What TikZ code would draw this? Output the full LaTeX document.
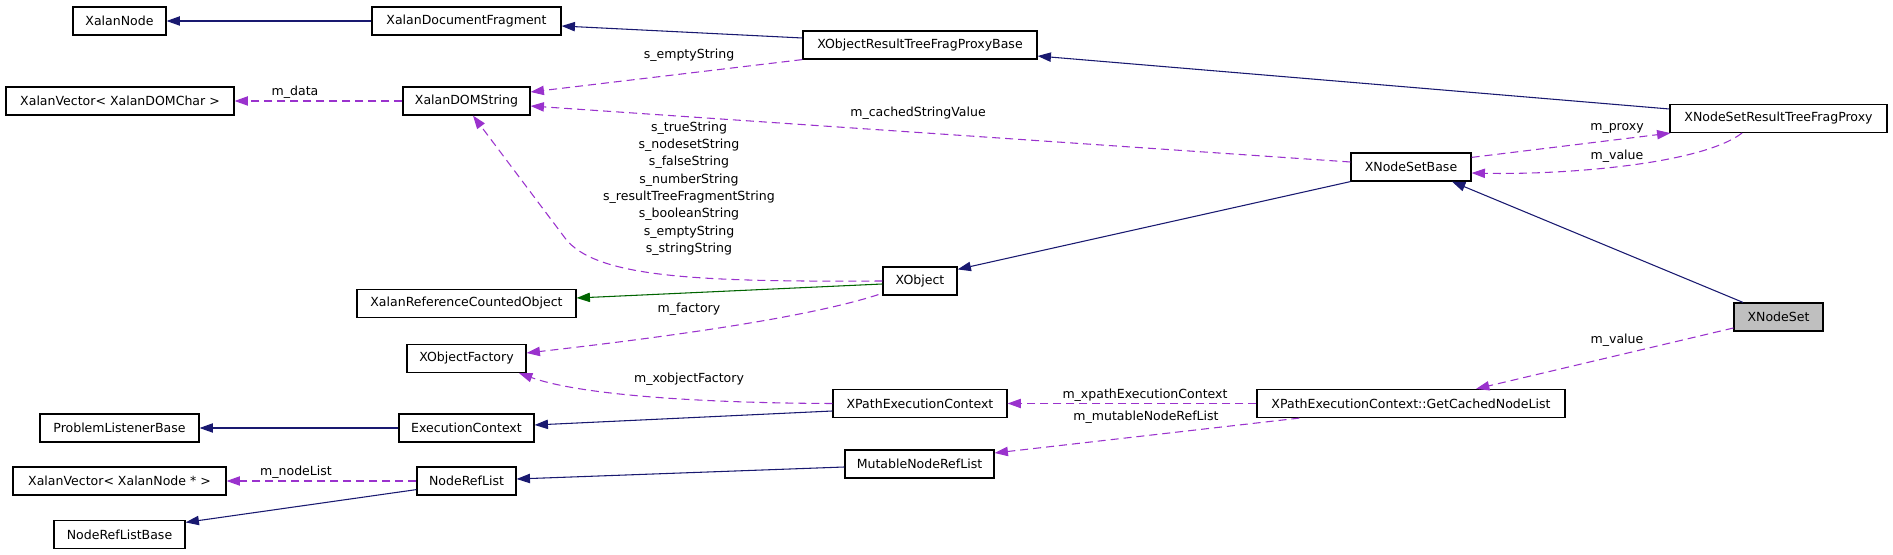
\documentclass[tikz,border=0pt]{standalone}
\usepackage{fontspec}
\setmainfont{DejaVu Sans}
\usetikzlibrary{arrows.meta,calc}
\definecolor{inhcol}{HTML}{191970}
\definecolor{protcol}{HTML}{006400}
\definecolor{usecol}{HTML}{9A32CD}
\definecolor{selcol}{HTML}{BFBFBF}
\tikzset{
  cls/.style={draw=black, line width=0.9pt, fill=white, inner sep=0pt, minimum height=21pt, font=\fontsize{9.4}{12}\selectfont},
  lbl/.style={inner sep=0pt, font=\fontsize{9.4}{13}\selectfont, align=center},
  tip/.style={-{Triangle[length=10pt,width=7pt]}},
  inhe/.style={draw=inhcol, line width=0.8pt, tip},
  prote/.style={draw=protcol, line width=0.8pt, tip},
  usee/.style={draw=usecol, line width=0.8pt, dash pattern=on 6pt off 3.75pt, tip},
}
\begin{document}
\begin{tikzpicture}[x=0.75pt, y=-0.75pt]
\useasboundingbox (0,0) rectangle (1893,555);
% nodes
\node[cls, minimum width=69.75pt]  (xnode) at (119.5,21) {XalanNode};
\node[cls, minimum width=141.75pt] (xdf)   at (466.5,21) {XalanDocumentFragment};
\node[cls, minimum width=175.5pt]  (xorb)  at (920,45) {XObjectResultTreeFragProxyBase};
\node[cls, minimum width=171pt]    (xvdc)  at (120,101) {XalanVector< XalanDOMChar >};
\node[cls, minimum width=95.25pt]  (xds)   at (466.5,101) {XalanDOMString};
\node[cls, minimum width=162.75pt] (xnsp)  at (1778.5,118.5) {XNodeSetResultTreeFragProxy};
\node[cls, minimum width=90pt]     (xnsb)  at (1411,167) {XNodeSetBase};
\node[cls, minimum width=55.5pt]   (xobj)  at (920,281) {XObject};
\node[cls, minimum width=164.25pt] (xrco)  at (466.5,303.5) {XalanReferenceCountedObject};
\node[cls, minimum width=66.75pt, fill=selcol] (xns) at (1778.5,317) {XNodeSet};
\node[cls, minimum width=89.25pt]  (xof)   at (466.5,358.5) {XObjectFactory};
\node[cls, minimum width=130.5pt]  (xpec)  at (920,403.5) {XPathExecutionContext};
\node[cls, minimum width=231pt]    (gcnl)  at (1411,403.5) {XPathExecutionContext::GetCachedNodeList};
\node[cls, minimum width=119.25pt] (plb)   at (119.5,428) {ProblemListenerBase};
\node[cls, minimum width=101.25pt] (xec)   at (466.5,428) {ExecutionContext};
\node[cls, minimum width=111.75pt] (mnrl)  at (919.5,464) {MutableNodeRefList};
\node[cls, minimum width=159.75pt] (xvn)   at (119.5,481) {XalanVector< XalanNode * >};
\node[cls, minimum width=74.25pt]  (nrl)   at (466.5,481) {NodeRefList};
\node[cls, minimum width=98.25pt]  (nrlb)  at (119.5,534.5) {NodeRefListBase};
% inheritance edges
\draw[inhe] (xdf.west) -- (xnode.east);
\draw[inhe] ($(xorb.west)+(0,-7)$) -- ($(xdf.east)+(0,5)$);
\draw[inhe] ($(xnsp.west)+(0,-9.5)$) -- ($(xorb.east)+(0,11)$);
\draw[inhe] (xnsb.south west) -- ($(xobj.north east)+(0,3)$);
\draw[inhe] ($(xns.north)+(-35.5,0)$) -- ($(xnsb.south)+(41,0)$);
\draw[prote] ($(xobj.west)+(0,3)$) -- ($(xrco.east)+(0,-5.5)$);
\draw[inhe] ($(xpec.west)+(0,7.5)$) -- ($(xec.east)+(0,-3)$);
\draw[inhe] (xec.west) -- (plb.east);
\draw[inhe] ($(mnrl.west)+(0,3)$) -- ($(nrl.east)+(0,-2)$);
\draw[inhe] ($(nrl.south west)+(0,-6)$) -- ($(nrlb.north east)+(0,2.5)$);
% usage edges
\draw[usee] (xorb.south west) -- ($(xds.east)+(0,-9)$);
\node[lbl] (l1) at (689,55) {s\_emptyString};
\draw[usee] (xds.west) -- (xvdc.east);
\node[lbl] (l2) at (295,92) {m\_data};
\draw[usee] ($(xnsb.west)+(0,-5)$) -- ($(xds.east)+(0,5)$);
\node[lbl] (l3) at (918,113) {m\_cachedStringValue};
\draw[usee] (xobj.west) .. controls (700,282) and (595,278) .. (565,238) -- ($(xds.south)+(6.5,0)$);
\node[lbl] (l4) at (689,188.5) {s\_trueString\\s\_nodesetString\\s\_falseString\\s\_numberString\\s\_resultTreeFragmentString\\s\_booleanString\\s\_emptyString\\s\_stringString};
\draw[usee] ($(xobj.south west)+(-4,-1)$) .. controls (800,320) and (640,340) .. ($(xof.east)+(0,-5.5)$);
\node[lbl] (l5) at (689,309) {m\_factory};
\draw[usee] ($(xnsb.north east)+(0,5)$) -- ($(xnsp.south west)+(1,0)$);
\node[lbl] (l6) at (1617,128) {m\_proxy};
\draw[usee] ($(xnsp.south)+(-36.5,0)$) .. controls (1700,165) and (1560,175) .. ($(xnsb.east)+(0,6)$);
\node[lbl] (l7) at (1617,156) {m\_value};
\draw[usee] ($(xns.west)+(0,11)$) -- ($(gcnl.north)+(65,0)$);
\node[lbl] (l8) at (1617,340) {m\_value};
\draw[usee] (gcnl.west) -- (xpec.east);
\node[lbl] (l9) at (1145,395) {m\_xpathExecutionContext};
\draw[usee] ($(gcnl.south west)+(43,0)$) -- ($(mnrl.east)+(0,-11)$);
\node[lbl] (l10) at (1146,417) {m\_mutableNodeRefList};
\draw[usee] (xpec.west) .. controls (700,403) and (580,395) .. ($(xof.south)+(52.5,0)$);
\node[lbl] (l11) at (689,379) {m\_xobjectFactory};
\draw[usee] (nrl.west) -- (xvn.east);
\node[lbl] (l12) at (296,472) {m\_nodeList};
\end{tikzpicture}
\end{document}
